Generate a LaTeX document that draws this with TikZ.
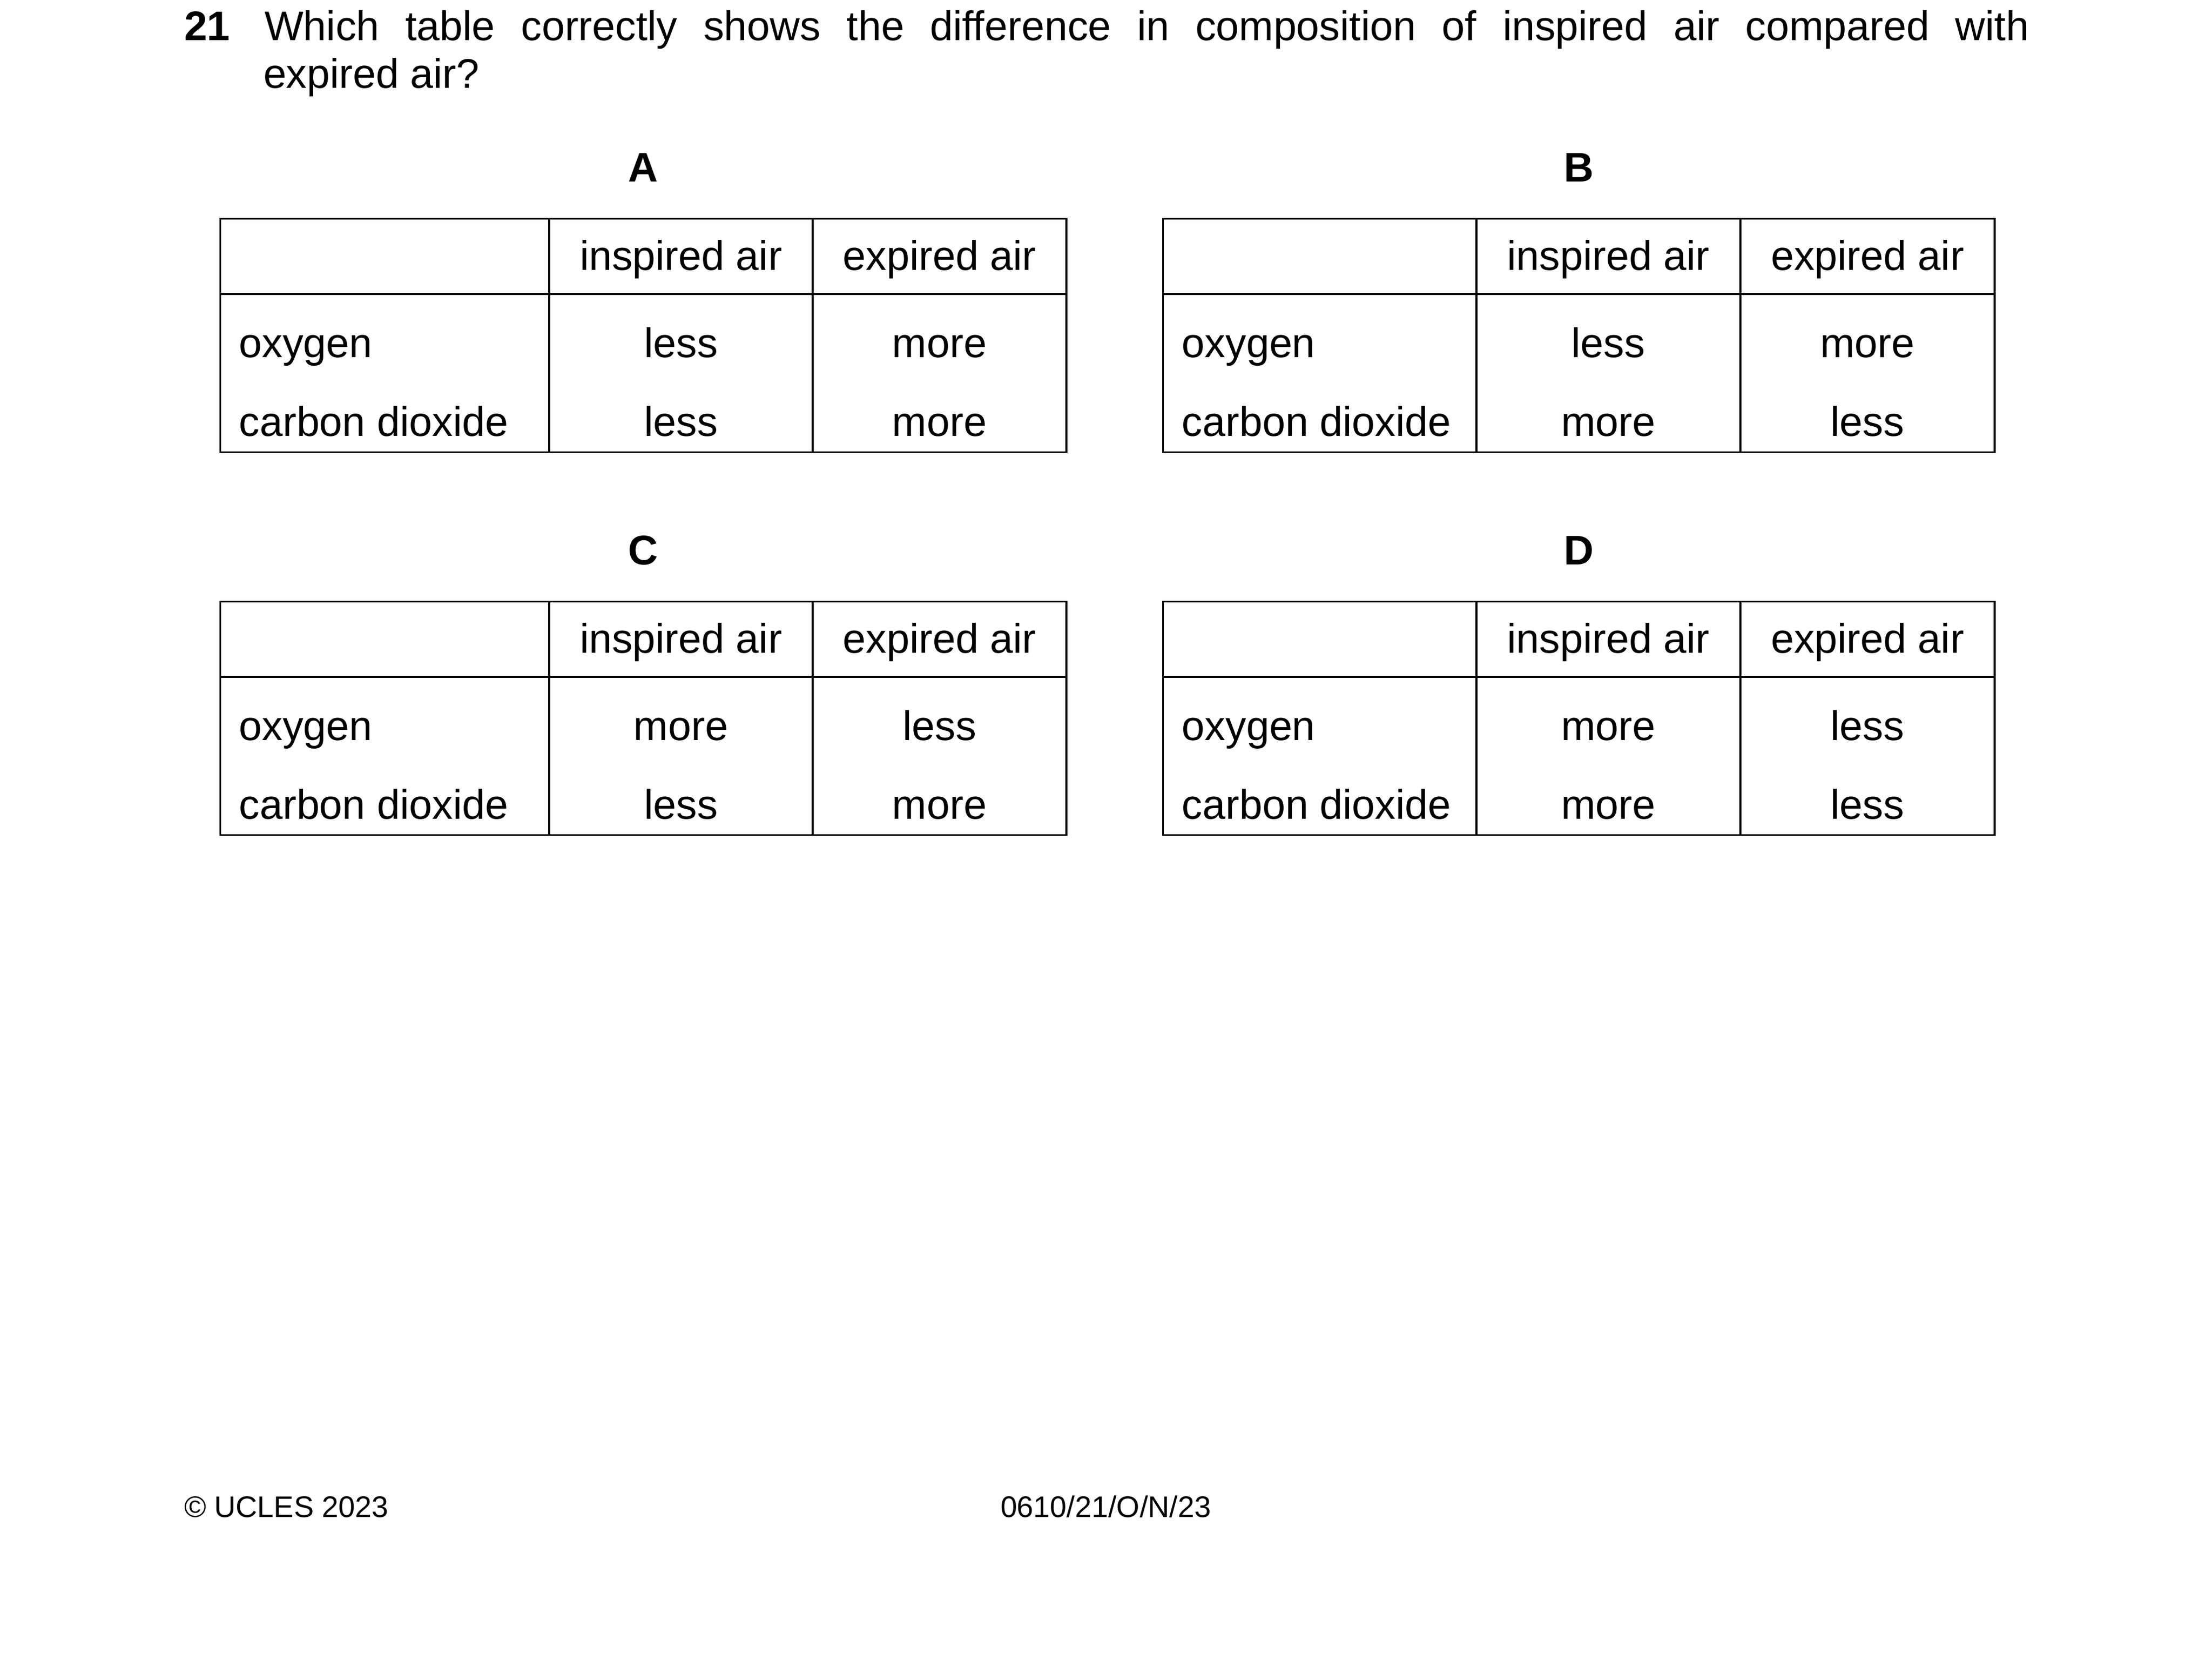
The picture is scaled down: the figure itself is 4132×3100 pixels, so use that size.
\documentclass[tikz,border=0pt]{standalone}
\usepackage{fontspec}
\setmainfont{Liberation Sans}
\newcommand\tcA{0}\newcommand\tcB{0}\newcommand\tcC{0}\newcommand\tcD{0}
\newcommand\setcols[4]{\renewcommand\tcA{#1}\renewcommand\tcB{#2}\renewcommand\tcC{#3}\renewcommand\tcD{#4}}
\tikzset{
  tline/.style={line width=0.52pt, black},
  txt/.style={inner sep=0pt, outer sep=0pt, font=\fontsize{12}{14}\selectfont},
  boldtxt/.style={txt, font=\fontsize{12}{14}\selectfont\bfseries},
  foot/.style={inner sep=0pt, outer sep=0pt, font=\fontsize{8.65}{10}\selectfont},
}
\newcommand\airtable[7]{%
  \node[boldtxt, anchor=base] (#7lab) at ({(\tcA+\tcD)/2},{#1-69}) {#2};
  \draw[tline] (\tcA,#1) rectangle (\tcD,{#1+436.2});
  \draw[tline] (\tcA,{#1+140.7}) -- (\tcD,{#1+140.7});
  \draw[tline] (\tcB,#1) -- (\tcB,{#1+436.2});
  \draw[tline] (\tcC,#1) -- (\tcC,{#1+436.2});
  \node[txt, anchor=base] (#7hin) at ({(\tcB+\tcC)/2},{#1+96.7}) {inspired air};
  \node[txt, anchor=base] (#7hex) at ({(\tcC+\tcD)/2},{#1+96.7}) {expired air};
  \node[txt, anchor=base west] (#7ox) at ({\tcA+35},{#1+259.4}) {oxygen};
  \node[txt, anchor=base west] (#7co) at ({\tcA+35},{#1+406}) {carbon dioxide};
  \node[txt, anchor=base] (#7oxin) at ({(\tcB+\tcC)/2},{#1+259.4}) {#3};
  \node[txt, anchor=base] (#7oxex) at ({(\tcC+\tcD)/2},{#1+259.4}) {#4};
  \node[txt, anchor=base] (#7coin) at ({(\tcB+\tcC)/2},{#1+406}) {#5};
  \node[txt, anchor=base] (#7coex) at ({(\tcC+\tcD)/2},{#1+406}) {#6};
}
\begin{document}
\begin{tikzpicture}[x=0.1553pt, y=-0.1553pt]
  \fill[white] (0,0) rectangle (4132,3100);
  \useasboundingbox (0,0) rectangle (4132,3100);
  % question
  \node[boldtxt, anchor=base west] (qnum) at (344,76) {21};
  \node[txt, anchor=base west] (qline1) at (494,76)
    {\makebox[512pt][s]{Which table correctly shows the difference in composition of inspired air compared with}};
  \node[txt, anchor=base west] (qline2) at (492,164.3) {expired air?};
  % tables
  \setcols{411.7}{1026}{1518}{1992}
  \airtable{408.3}{A}{less}{more}{less}{more}{ta}
  \airtable{1123.3}{C}{more}{less}{less}{more}{tc}
  \setcols{2172.8}{2758}{3251}{3726}
  \airtable{408.3}{B}{less}{more}{more}{less}{tb}
  \airtable{1123.3}{D}{more}{less}{more}{less}{td}
  % footer
  \node[foot, anchor=base west] (copy) at (344,2833.3) {© UCLES 2023};
  \node[foot, anchor=base west] (code) at (1869,2833.3) {0610/21/O/N/23};
\end{tikzpicture}
\end{document}
